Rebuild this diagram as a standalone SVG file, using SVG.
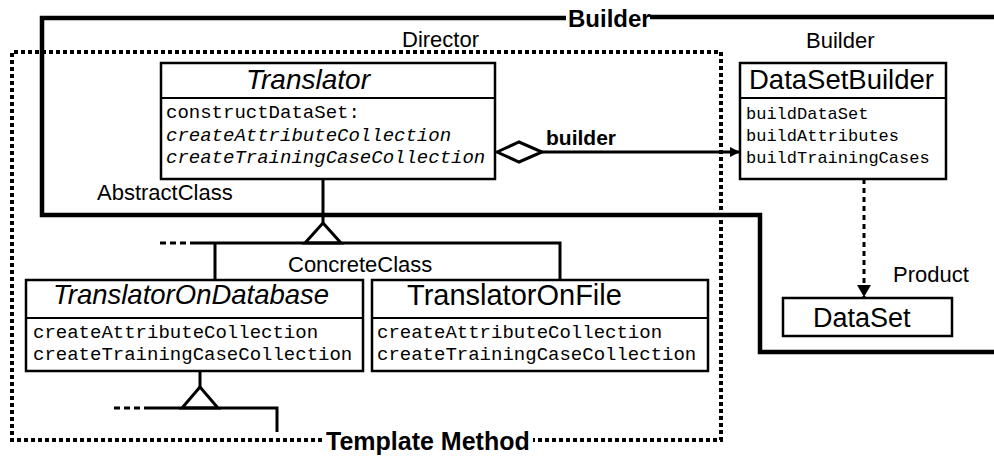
<svg xmlns="http://www.w3.org/2000/svg" width="994" height="460" viewBox="0 0 994 460">
<defs>
<style>
.box{fill:#fff;stroke:#000;stroke-width:2.5}
.div{stroke:#000;stroke-width:2}
.title{font-family:"Liberation Sans",Arial,sans-serif;fill:#000}
.it{font-style:italic}
.mono{font-family:"Liberation Mono","Courier New",monospace;fill:#000}
.lbl{font-family:"Liberation Sans",Arial,sans-serif;font-size:22px;fill:#000}
.bold{font-family:"Liberation Sans",Arial,sans-serif;font-weight:bold;fill:#000}
.ln{fill:none;stroke:#000;stroke-width:3}
.dash{fill:none;stroke:#000;stroke-width:3;stroke-dasharray:6 4}
.frame{fill:none;stroke:#000;stroke-width:4.5}
.dots{fill:none;stroke:#000;stroke-width:4;stroke-dasharray:4 3}
.tri{fill:#fff;stroke:#000;stroke-width:3;stroke-linejoin:miter}
</style>
<marker id="arr" viewBox="0 0 10 10" refX="10" refY="5" markerWidth="10" markerHeight="10" markerUnits="userSpaceOnUse" orient="auto">
<path d="M0,0 L10,5 L0,10 z" fill="#000"/>
</marker>
<marker id="arr2" viewBox="0 0 12 14" refX="12" refY="7" markerWidth="12" markerHeight="14" markerUnits="userSpaceOnUse" orient="auto">
<path d="M0,0 L12,7 L0,14 z" fill="#000"/>
</marker>
</defs>
<rect width="994" height="460" fill="#fff"/>

<g id="builder-pattern">
<path class="frame" d="M566,18 H42 V215 H760 V352 H994"/>
<path class="frame" d="M650,17 H994"/>
<text class="bold" x="568" y="27" font-size="24">Builder</text>
</g>

<g id="template-method">
<path class="dots" d="M322,440 H12 V52 H721 V440 H533"/>
<text class="bold" x="326" y="450" font-size="25">Template Method</text>
<text class="lbl" x="402" y="47">Director</text>
</g>

<g id="translator">
<rect class="box" x="161" y="63" width="334" height="116"/>
<line class="div" x1="161" y1="98" x2="495" y2="98"/>
<text class="title it" x="246" y="89" font-size="28">Translator</text>
<text class="mono" x="166" y="118" font-size="19">constructDataSet:</text>
<text class="mono it" x="166" y="141" font-size="19">createAttributeCollection</text>
<text class="mono it" x="166" y="163" font-size="19">createTrainingCaseCollection</text>
<text class="lbl" x="97" y="200">AbstractClass</text>
</g>

<g id="translator-on-database">
<rect class="box" x="26" y="280" width="337" height="91"/>
<line class="div" x1="26" y1="318" x2="363" y2="318"/>
<text class="title it" x="53" y="304" font-size="27.5">TranslatorOnDatabase</text>
<text class="mono" x="33" y="338" font-size="19">createAttributeCollection</text>
<text class="mono" x="33" y="360" font-size="19">createTrainingCaseCollection</text>
</g>

<g id="translator-on-file">
<rect class="box" x="372" y="280" width="336" height="91"/>
<line class="div" x1="372" y1="318" x2="708" y2="318"/>
<text class="title" x="407" y="305" font-size="29">TranslatorOnFile</text>
<text class="mono" x="377" y="338" font-size="19">createAttributeCollection</text>
<text class="mono" x="377" y="360" font-size="19">createTrainingCaseCollection</text>
<text class="lbl" x="288" y="272">ConcreteClass</text>
</g>

<g id="dataset-builder">
<rect class="box" x="740" y="63" width="206" height="116"/>
<line class="div" x1="740" y1="98" x2="946" y2="98"/>
<text class="title" x="749" y="89" font-size="27.5">DataSetBuilder</text>
<text class="mono" x="746" y="119" font-size="17">buildDataSet</text>
<text class="mono" x="746" y="141" font-size="17">buildAttributes</text>
<text class="mono" x="746" y="163" font-size="17">buildTrainingCases</text>
<text class="lbl" x="806" y="48">Builder</text>
</g>

<g id="dataset">
<rect class="box" x="783" y="298" width="169" height="38"/>
<text class="title" x="813" y="327" font-size="27">DataSet</text>
<text class="lbl" x="893" y="282">Product</text>
</g>

<g id="connectors">
<line class="ln" x1="323" y1="179" x2="323" y2="223"/>
<polygon class="tri" points="323,223 305,243 341,243"/>
<line class="dash" x1="160" y1="243" x2="195" y2="243"/>
<path class="ln" d="M195,243 H560 V280"/>
<line class="ln" x1="215" y1="243" x2="215" y2="280"/>
<line class="ln" x1="200" y1="371" x2="200" y2="387"/>
<polygon class="tri" points="200,387 182,408 218,408"/>
<line class="dash" x1="114" y1="408" x2="150" y2="408"/>
<path class="ln" d="M150,408 H277 V432"/>
<polygon fill="#fff" stroke="#000" stroke-width="3" points="497,152 519,142 542,152 519,162"/>
<line class="ln" x1="542" y1="152" x2="740" y2="152" marker-end="url(#arr)"/>
<text class="bold" x="546" y="145" font-size="21">builder</text>
<line x1="864" y1="179" x2="864" y2="297" stroke="#000" stroke-width="3" stroke-dasharray="5 4" marker-end="url(#arr2)"/>
</g>
</svg>
